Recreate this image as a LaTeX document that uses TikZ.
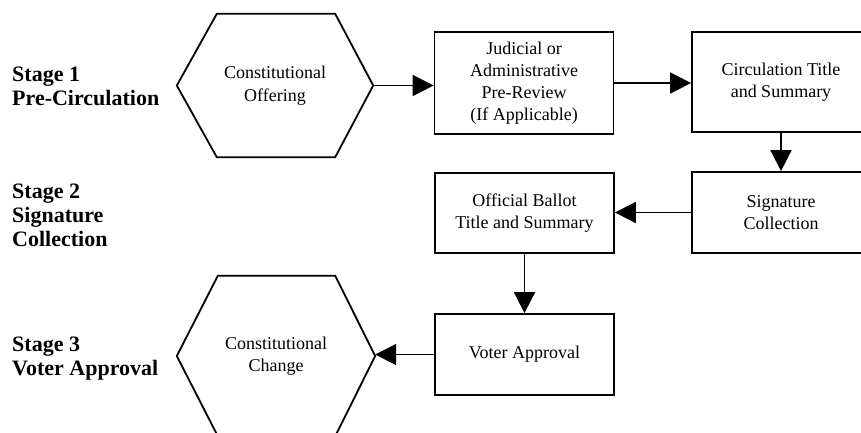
\documentclass[tikz,border=0pt]{standalone}
\usepackage{fontspec}
\setmainfont{Liberation Serif}
\usetikzlibrary{arrows.meta}
\begin{document}
\begin{tikzpicture}[x=1pt,y=-1pt,
  box/.style={draw, line width=1.8pt, align=center, inner sep=0pt, font=\fontsize{18}{22}\selectfont},
  hexbox/.style={inner sep=0pt, align=center, font=\fontsize{18}{22.5}\selectfont},
  stagelabel/.style={anchor=north west, inner sep=0pt, align=left, font=\fontsize{22}{24}\selectfont\bfseries},
  arr/.style={line width=1.8pt, -{Triangle[length=21pt,width=21pt]}},
  hexline/.style={line width=1.8pt, line join=miter}]
\path[use as bounding box] (0,0) rectangle (861,432);
\clip (0,0) rectangle (861,432);

% stage labels
\node[stagelabel] (s1) at (12,67) {Stage 1\\Pre-Circulation};
\node[stagelabel] (s2) at (12,184) {Stage 2\\Signature\\Collection};
\node[stagelabel] (s3) at (12,337) {Stage 3\\Voter Approval};

% hexagons
\node[hexbox, minimum width=196pt, minimum height=143pt] (h1) at (275,85.5) {Constitutional\\Offering};
\draw[hexline] (h1.west) -- ([xshift=40pt]h1.north west) -- ([xshift=-38pt]h1.north east) -- (h1.east) -- ([xshift=-38pt]h1.south east) -- ([xshift=40pt]h1.south west) -- cycle;

\node[hexbox, minimum width=198pt, minimum height=160pt] (h2) at (276,356) {Constitutional\\Change};
\draw[hexline] (h2.west) -- ([xshift=41pt]h2.north west) -- ([xshift=-40pt]h2.north east) -- (h2.east) -- ([xshift=-40pt]h2.south east) -- ([xshift=41pt]h2.south west) -- cycle;

% boxes
\node[box, minimum width=179pt, minimum height=102pt] (b1) at (524,83) {Judicial or\\Administrative\\Pre-Review\\(If Applicable)};
\node[box, minimum width=178pt, minimum height=100pt] (b2) at (781,82) {Circulation Title\\and Summary};
\node[box, minimum width=178pt, minimum height=81pt] (b3) at (781,212.5) {Signature\\Collection};
\node[box, minimum width=179pt, minimum height=80pt] (b4) at (524.5,213) {Official Ballot\\Title and Summary};
\node[box, minimum width=179pt, minimum height=81pt] (b5) at (524.5,354.5) {Voter Approval};

% connectors
\draw[arr] (h1.east) -- (h1.east -| b1.west);
\draw[arr] (b1.east) -- (b1.east -| b2.west);
\draw[arr] (b2.south) -- (b3.north);
\draw[arr] (b3.west) -- (b3.west -| b4.east);
\draw[arr] (b4.south) -- (b5.north);
\draw[arr] (b5.west) -- (b5.west -| h2.east);
\end{tikzpicture}
\end{document}
